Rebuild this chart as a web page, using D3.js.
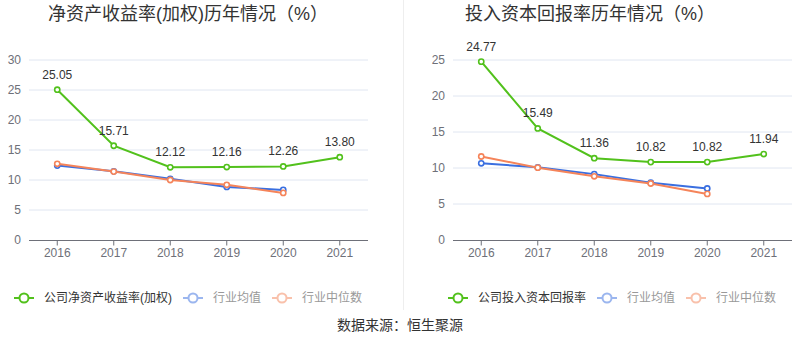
<!DOCTYPE html>
<html><head><meta charset="utf-8">
<script src="https://cdn.jsdelivr.net/npm/d3@7/dist/d3.min.js"></script>
<style>
body{margin:0;background:#fff;}
text{font-family:"Liberation Sans","Noto Sans CJK SC",sans-serif;}
</style></head><body>
<svg id="c" width="800" height="358"></svg>
<script>
const years = ["2016","2017","2018","2019","2020","2021"];
const roeCompany = [25.05, 15.71, 12.12, 12.16, 12.26, 13.80];
const roeIndustryMean = [12.4, 11.45, 10.2, 8.85, 8.35];
const roeIndustryMedian = [12.7, 11.4, 10.0, 9.2, 7.85];
const roicCompany = [24.77, 15.49, 11.36, 10.82, 10.82, 11.94];
const roicIndustryMean = [10.65, 10.1, 9.15, 7.95, 7.15];
const roicIndustryMedian = [11.6, 10.05, 8.85, 7.85, 6.4];
const roeTicks = [0,5,10,15,20,25,30];
const roicTicks = [0,5,10,15,20,25];

const GREEN = "#52c11c", BLUE = "#3a6fe0", ORANGE = "#f5845a";
const svg = d3.select("#c");

function panel(cfg){
  const g = svg.append("g");
  const x = d3.scalePoint().domain(years).range([cfg.x0 + cfg.w/12, cfg.x0 + cfg.w - cfg.w/12]);
  const y = d3.scaleLinear().domain([0, cfg.ymax]).range([240, 60]);
  // grid
  g.selectAll(".grid").data(cfg.ticks.filter(t=>t>0)).enter().append("line")
    .attr("x1", cfg.x0).attr("x2", cfg.x0+cfg.w)
    .attr("y1", d=>y(d)).attr("y2", d=>y(d))
    .attr("stroke", "#e0e6f1").attr("stroke-width", 1);
  // y labels
  g.selectAll(".yl").data(cfg.ticks).enter().append("text")
    .attr("x", cfg.x0-8).attr("y", d=>y(d)).attr("dy","0.35em")
    .attr("text-anchor","end").attr("font-size",12).attr("fill","#6e7079")
    .text(d=>d);
  // x axis
  g.append("line").attr("x1",cfg.x0).attr("x2",cfg.x0+cfg.w).attr("y1",240.5).attr("y2",240.5)
    .attr("stroke","#6e7079");
  g.selectAll(".xt").data(years).enter().append("line")
    .attr("x1",d=>x(d)).attr("x2",d=>x(d)).attr("y1",240.5).attr("y2",245.5).attr("stroke","#6e7079");
  g.selectAll(".xl").data(years).enter().append("text")
    .attr("x",d=>x(d)).attr("y",257).attr("text-anchor","middle")
    .attr("font-size",12).attr("fill","#6e7079").text(d=>d);
  const line = d3.line().x((d,i)=>x(years[i])).y(d=>y(d));
  const series = [
    {data:cfg.mean, color:BLUE},
    {data:cfg.median, color:ORANGE},
    {data:cfg.company, color:GREEN}
  ];
  series.forEach(s=>{
    g.append("path").datum(s.data).attr("d",line).attr("fill","none")
      .attr("stroke",s.color).attr("stroke-width",2);
    g.selectAll(null).data(s.data).enter().append("circle")
      .attr("cx",(d,i)=>x(years[i])).attr("cy",d=>y(d)).attr("r",2.6)
      .attr("fill","#fff").attr("stroke",s.color).attr("stroke-width",1.6);
  });
  g.selectAll(".lbl").data(cfg.company).enter().append("text")
    .attr("x",(d,i)=>x(years[i])).attr("y",d=>y(d)-11)
    .attr("text-anchor","middle").attr("font-size",12).attr("fill","#333")
    .text(d=>d.toFixed(2));
  // title
  svg.append("text").attr("x",cfg.tx).attr("y",20).attr("text-anchor","middle")
    .attr("font-size",18).attr("fill","#333").text(cfg.title);
  // legend
  cfg.legend.forEach(l=>{
    const lg = svg.append("g").attr("opacity", l.faded ? 0.5 : 1);
    lg.append("line").attr("x1",l.x).attr("x2",l.x+20).attr("y1",298).attr("y2",298)
      .attr("stroke",l.color).attr("stroke-width",2);
    lg.append("circle").attr("cx",l.x+10).attr("cy",298).attr("r",4.5)
      .attr("fill","#fff").attr("stroke",l.color).attr("stroke-width",2);
    svg.append("text").attr("x",l.x+30).attr("y",298).attr("dy","0.35em")
      .attr("font-size",12).attr("fill", l.faded ? "#999" : "#333").text(l.text);
  });
}

panel({x0:29, w:339, ymax:30, ticks:roeTicks, company:roeCompany, mean:roeIndustryMean, median:roeIndustryMedian,
  title:"净资产收益率(加权)历年情况（%）", tx:188,
  legend:[{x:14,color:GREEN,text:"公司净资产收益率(加权)"},{x:183,color:BLUE,text:"行业均值",faded:true},{x:272,color:ORANGE,text:"行业中位数",faded:true}]});
panel({x0:453, w:339, ymax:25, ticks:roicTicks, company:roicCompany, mean:roicIndustryMean, median:roicIndustryMedian,
  title:"投入资本回报率历年情况（%）", tx:590,
  legend:[{x:448,color:GREEN,text:"公司投入资本回报率"},{x:597,color:BLUE,text:"行业均值",faded:true},{x:686,color:ORANGE,text:"行业中位数",faded:true}]});

svg.append("line").attr("x1",403.5).attr("x2",403.5).attr("y1",0).attr("y2",310)
  .attr("stroke","#eeeeee").attr("stroke-width",1);
svg.append("text").attr("x",400).attr("y",325).attr("dy","0.35em").attr("text-anchor","middle")
  .attr("font-size",14).attr("fill","#333").text("数据来源：恒生聚源");
</script></body></html>
